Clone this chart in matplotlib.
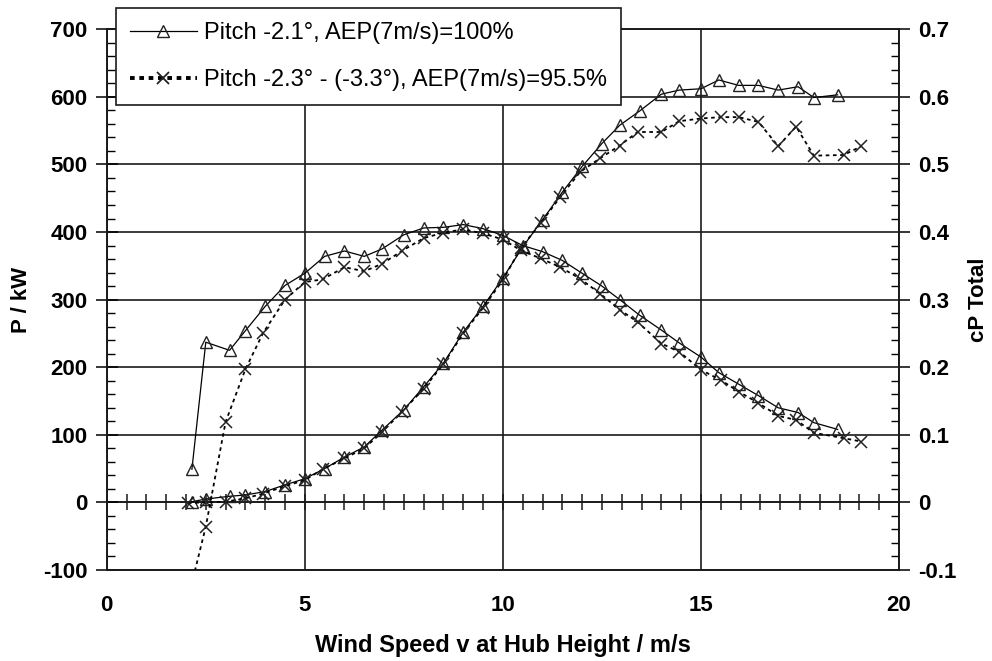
import numpy as np
import matplotlib
matplotlib.use("Agg")
import matplotlib.pyplot as plt
from matplotlib.lines import Line2D
from matplotlib.ticker import MultipleLocator

plt.rcParams['font.family'] = ['Liberation Sans', 'DejaVu Sans']

# ---- data ----
x_a = [2.15, 2.5, 3.1, 3.5, 4.0, 4.5, 5.0, 5.5, 6.0, 6.5, 6.95, 7.5, 8.0, 8.5, 9.0,
       9.5, 10.0, 10.5, 11.0, 11.5, 12.0, 12.5, 12.95, 13.45, 14.0, 14.45, 15.0,
       15.45, 15.95, 16.45, 16.95, 17.45, 17.85, 18.45]
cp_a = [0.049, 0.237, 0.225, 0.254, 0.290, 0.321, 0.339, 0.364, 0.372, 0.364, 0.375,
        0.396, 0.406, 0.407, 0.411, 0.405, 0.395, 0.380, 0.371, 0.358, 0.339, 0.320,
        0.300, 0.277, 0.255, 0.236, 0.215, 0.192, 0.175, 0.158, 0.140, 0.133, 0.118, 0.108]
p_a = [1, 5, 9, 11, 16, 26, 35, 50, 67, 82, 107, 137, 171, 206, 252, 290, 332, 378,
       418, 459, 497, 531, 558, 579, 604, 610, 612, 625, 617, 617, 610, 615, 599, 603]

x_b = [2.05, 2.5, 3.0, 3.5, 3.95, 4.5, 5.0, 5.45, 6.0, 6.5, 6.95, 7.45, 8.0, 8.5, 9.0,
       9.5, 10.0, 10.45, 10.95, 11.45, 11.95, 12.45, 12.95, 13.4, 14.0, 14.45, 15.0,
       15.5, 15.95, 16.45, 16.95, 17.4, 17.85, 18.6, 19.05]
cp_b = [-0.143, -0.036, 0.119, 0.197, 0.251, 0.300, 0.326, 0.330, 0.348, 0.342, 0.353,
        0.372, 0.391, 0.399, 0.404, 0.398, 0.389, 0.373, 0.361, 0.348, 0.331, 0.309,
        0.285, 0.267, 0.235, 0.223, 0.196, 0.181, 0.164, 0.147, 0.128, 0.122, 0.103,
        0.095, 0.090]
p_b = [-1, 0, 1, 6, 13, 24, 33, 49, 65, 80, 104, 134, 168, 205, 250, 288, 329, 376,
       413, 452, 489, 509, 528, 548, 548, 564, 568, 570, 570, 563, 527, 556, 513, 514, 527]

label_a = "Pitch -2.1°, AEP(7m/s)=100%"
label_b = "Pitch -2.3° - (-3.3°), AEP(7m/s)=95.5%"

x_ticks = [0, 5, 10, 15, 20]
p_lim = (-100, 700)
cp_lim = (-0.1, 0.7)
x_lim = (0, 20)

# ---- figure ----
fig = plt.figure(figsize=(9.92, 6.61), dpi=100)
ax = fig.add_axes([0.1076, 0.1377, 0.9063 - 0.1076, 0.9557 - 0.1377])
ax2 = ax.twinx()

ax.set_xlim(*x_lim)
ax.set_ylim(*p_lim)
ax2.set_ylim(*cp_lim)

grid_kw = dict(color='#1a1a1a', lw=1.2)
ax.set_axisbelow(True)
ax.grid(True, which='major', **grid_kw)

for s in ax.spines.values():
    s.set_color('#1a1a1a'); s.set_linewidth(1.2)
for s in ax2.spines.values():
    s.set_color('#1a1a1a'); s.set_linewidth(1.2)

line_kw_a = dict(color='black', lw=0.9, marker='^', markersize=9,
                 markerfacecolor='none', markeredgecolor='#222222', markeredgewidth=1.0)
line_kw_b = dict(color='black', lw=1.3, linestyle=(0, (2, 2)), marker='x', markersize=8,
                 markeredgecolor='#222222', markeredgewidth=1.1)

ax.plot(x_a, p_a, **line_kw_a)
ax.plot(x_b, p_b, **line_kw_b)
ax2.plot(x_a, cp_a, **line_kw_a)
ax2.plot(x_b, cp_b, **line_kw_b)

# ticks
tick_font = dict(fontsize=16, fontweight='bold')
ax.set_xticks(x_ticks)
ax.set_xticklabels([str(t) for t in x_ticks], **tick_font)
ax.tick_params(axis='x', length=0, pad=18)
ax.set_yticks(np.arange(-100, 701, 100))
ax.set_yticklabels([str(v) for v in range(-100, 701, 100)], **tick_font)
ax.yaxis.set_minor_locator(MultipleLocator(20))
ax.tick_params(axis='y', which='major', direction='inout', length=16, width=1.1, pad=6)
ax.tick_params(axis='y', which='minor', direction='in', length=6, width=1.0)

cp_ticks = np.round(np.arange(-0.1, 0.71, 0.1), 1)
ax2.set_yticks(cp_ticks)
ax2.set_yticklabels(["0" if abs(v) < 1e-9 else f"{v:.1f}" for v in cp_ticks], **tick_font)
ax2.yaxis.set_minor_locator(MultipleLocator(0.02))
ax2.tick_params(axis='y', which='major', direction='out', length=8, width=1.1, pad=6)
ax2.tick_params(axis='y', which='minor', direction='in', length=6, width=1.0)

# x axis crossing at zero
zero_frac = (0 - p_lim[0]) / (p_lim[1] - p_lim[0])
sec = ax.secondary_xaxis(zero_frac)
sec.set_xticks(np.arange(0, 20.01, 0.5))
sec.set_xticklabels([])
sec.tick_params(direction='inout', length=12, width=1.1, color='#1a1a1a')
sec.spines['bottom'].set_color('#1a1a1a')
sec.spines['bottom'].set_linewidth(1.2)

ax.set_xlabel("Wind Speed v at Hub Height / m/s", fontsize=17, fontweight='bold', labelpad=13)
ax.set_ylabel("P / kW", fontsize=16, fontweight='bold', labelpad=8)
ax2.set_ylabel("cP Total", fontsize=16, fontweight='bold', labelpad=8)

handles = [
    Line2D([], [], color='black', lw=0.9, marker='^', markersize=8,
           markerfacecolor='none', markeredgecolor='#222222'),
    Line2D([], [], color='black', lw=2.8, linestyle=(0, (1.2, 1.2)), marker='x', markersize=8,
           markeredgecolor='#222222', markeredgewidth=1.3),
]
leg = fig.legend(handles, [label_a, label_b], loc='upper left',
                 bbox_to_anchor=(115.5 / 992, 1 - 8 / 661), borderaxespad=0,
                 fontsize=17, frameon=True, fancybox=False, edgecolor='#1a1a1a',
                 framealpha=1, handlelength=2.85, handletextpad=0.3,
                 labelspacing=1.05, borderpad=0.6)
leg.get_frame().set_linewidth(1.2)

fig.savefig("out.png", dpi=100)
